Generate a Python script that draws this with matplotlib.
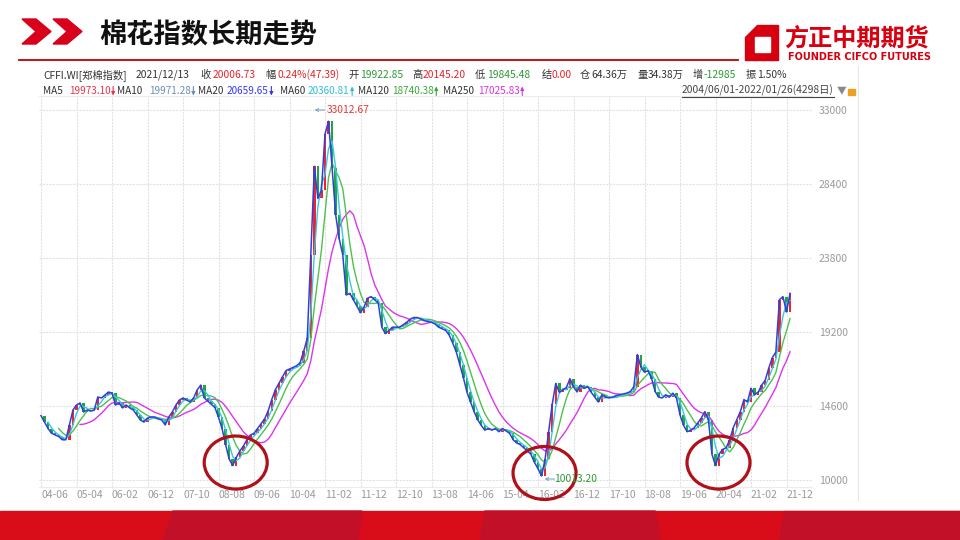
import matplotlib
matplotlib.use('Agg')
import matplotlib.pyplot as plt
import matplotlib.patches as mpatches
import numpy as np
import pandas as pd

# monthly closes of 郑棉指数 (2004-06 .. 2022-01)
close_2004 = [14000, 13600, 13200, 12900, 12800, 12700, 12500]
close_2005 = [12500, 13420, 14350, 14660, 14790, 14230, 14350, 14290, 14350, 15160, 15100, 15280]
close_2006 = [15470, 15400, 14660, 14790, 14480, 14660, 14480, 14350, 14040, 13730, 13600, 13850]
close_2007 = [13920, 13920, 13800, 13730, 13420, 13920, 14230, 14660, 14970, 15100, 14970, 14850]
close_2008 = [15100, 15600, 15900, 15100, 14900, 14700, 14500, 13900, 13200, 12200, 11300, 10900]
close_2009 = [11400, 11800, 12100, 12500, 12800, 12900, 13200, 13500, 13800, 14300, 15000, 15600]
close_2010 = [16000, 16400, 16800, 16900, 17000, 17100, 17300, 18000, 18800, 24000, 29500, 27500]
close_2011 = [28000, 31500, 32300, 29400, 26500, 25000, 24000, 21500, 21600, 21200, 20800, 20400]
close_2012 = [20750, 21300, 21400, 21200, 21000, 19500, 19100, 19300, 19500, 19500, 19500, 19650]
close_2013 = [19800, 20000, 20100, 20100, 20000, 19900, 19850, 19800, 19700, 19500, 19400, 19300]
close_2014 = [19000, 18500, 17950, 17150, 16350, 15450, 14850, 14250, 13750, 13400, 13100, 13200]
close_2015 = [13100, 13200, 13000, 13200, 13050, 12900, 12500, 12300, 12200, 12000, 11800, 11600]
close_2016 = [11100, 10700, 10250, 11300, 13000, 14700, 16000, 15450, 15600, 15750, 16300, 15800]
close_2017 = [15470, 15900, 15700, 15800, 15450, 15150, 14850, 15300, 15150, 15100, 15150, 15250]
close_2018 = [15300, 15350, 15400, 15500, 15800, 17800, 17000, 16700, 16800, 16300, 15500, 15150]
close_2019 = [15100, 15300, 15150, 15400, 15100, 14050, 13400, 13000, 13100, 13250, 13550, 13850]
close_2020 = [14250, 13750, 11600, 10900, 11600, 11900, 12000, 12500, 13250, 13750, 14250, 15000]
close_2021 = [14850, 15700, 15300, 15450, 15900, 16200, 16950, 17600, 17950, 21200, 21400, 20450]
close_2022 = [21600]

y_ticks = [10000, 14600, 19200, 23800, 28400, 33000]
peak_label = '33012.67'
low_label = '10013.20'
circled_lows = ['2008-12', '2016-03', '2020-04']

quote_items = [('', 'CFFI.WI[郑棉指数]'), ('', '2021/12/13'), ('收', '20006.73'),
               ('幅', '0.24%(47.39)'), ('开', '19922.85'), ('高', '20145.20'),
               ('低', '19845.48'), ('结', '0.00'), ('仓', '64.36万'),
               ('量', '34.38万'), ('增', '-12985'), ('振', '1.50%')]
ma_items = [('MA5', '19973.10', 'down'), ('MA10', '19971.28', 'down'),
            ('MA20', '20659.65', 'down'), ('MA60', '20360.81', 'up'),
            ('MA120', '18740.38', 'up'), ('MA250', '17025.83', 'up')]
range_text = '2004/06/01-2022/01/26(4298日)'

plt.rcParams['font.family'] = ['Noto Sans CJK SC', 'DejaVu Sans']

close = np.array(close_2004 + close_2005 + close_2006 + close_2007 + close_2008 +
                 close_2009 + close_2010 + close_2011 + close_2012 + close_2013 +
                 close_2014 + close_2015 + close_2016 + close_2017 + close_2018 +
                 close_2019 + close_2020 + close_2021 + close_2022, dtype=float)
months = pd.period_range('2004-06', '2022-01', freq='M')
x = np.arange(len(close))
opens = np.r_[close[0], close[:-1]]
s = pd.Series(close)

fig = plt.figure(figsize=(9.6, 5.4), dpi=100)
W, H = 960, 540

# chart panel, placed in pixels
L, R, T, B = 39, 812, 96, 487
ax = fig.add_axes([L / W, 1 - B / H, (R - L) / W, (B - T) / H])
ax.set_xlim((L - 41) / 3.55, (R - 41) / 3.55)
ax.set_ylim(10000 - (B - 480) * 62.16, 33000 + (110 - T) * 62.16)

up = close >= opens
ax.bar(x, close - opens, bottom=opens, width=0.7,
       color=np.where(up, '#f2232b', '#1fa83a'), zorder=2)
ax.plot(x, s.rolling(12).mean(), color='#dd33ee', lw=1.0, zorder=3)
ax.plot(x, s.rolling(6).mean(), color='#4cc24c', lw=1.0, zorder=3)
ax.plot(x, s.rolling(3).mean(), color='#35c8e0', lw=1.0, zorder=3)
ax.plot(x, close, color='#2f3fe0', lw=1.1, zorder=4)

ticks = x[::10]
ax.set_xticks(ticks)
ax.set_xticklabels([months[i].strftime('%y-%m') for i in ticks], ha='left')
ax.set_yticks(y_ticks)
ax.set_yticklabels([str(v) for v in y_ticks])
ax.yaxis.tick_right()
ax.tick_params(axis='x', length=0, pad=2, labelsize=7.5, labelcolor='#9a9a9a')
ax.tick_params(axis='y', length=0, pad=5, labelsize=7.5, labelcolor='#9a9a9a')
ax.grid(True, color='#e2e2e2', lw=0.8, ls=(0, (2, 1)))
ax.set_axisbelow(True)
for sp in ['left', 'right']:
    ax.spines[sp].set_visible(False)
for sp in ['top', 'bottom']:
    ax.spines[sp].set_color('#ececec')

# overlay in pixel coordinates for header, footer and highlights
ov = fig.add_axes([0, 0, 1, 1], zorder=5)
ov.set_xlim(0, W)
ov.set_ylim(H, 0)
ov.axis('off')
ov.patch.set_alpha(0)


def to_px(xd, yd):
    dx, dy = ax.transData.transform((xd, yd))
    return dx, H - dy


def small_arrow(x0, y0, direction, col):
    # narrow arrow glyph like the terminal's ↑ / ↓
    if direction == 'up':
        ov.annotate('', xy=(x0, y0 - 4.5), xytext=(x0, y0 + 4.5),
                    arrowprops=dict(arrowstyle='-|>', color=col, lw=0.8,
                                    mutation_scale=5, shrinkA=0, shrinkB=0))
    elif direction == 'down':
        ov.annotate('', xy=(x0, y0 + 4.5), xytext=(x0, y0 - 4.5),
                    arrowprops=dict(arrowstyle='-|>', color=col, lw=0.8,
                                    mutation_scale=5, shrinkA=0, shrinkB=0))
    else:
        ov.annotate('', xy=(x0, y0), xytext=(x0 + 10, y0),
                    arrowprops=dict(arrowstyle='->', color=col, lw=0.8,
                                    mutation_scale=5, shrinkA=0, shrinkB=0))


# header
red = '#d9001b'
for x0 in [22, 53]:
    ov.add_patch(mpatches.Polygon([(x0, 19), (x0 + 14, 19), (x0 + 29, 31.5), (x0 + 14, 44),
                                   (x0, 44), (x0 + 14, 31.5)], closed=True, color=red))
ov.text(99, 35, '棉花指数长期走势', fontsize=19.6, fontweight='bold', va='center', color='#111111')
ov.plot([19, 738], [60, 60], color='#c00000', lw=1.3)

# logo
ov.add_patch(mpatches.Polygon([(757, 25), (778, 25), (778, 60), (745, 60), (745, 37)],
                              closed=True, color='#d7000f'))
ov.add_patch(mpatches.Rectangle((755, 37), 15, 15, color='white'))
ov.text(784, 38, '方正中期期货', fontsize=17.4, fontweight='bold', color='#d7000f', va='center')
ov.text(788, 57.5, 'FOUNDER CIFCO FUTURES', fontsize=7.0, fontweight='bold',
        color='#d7000f', va='center', family=['DejaVu Sans'])

# quote lines
fs = 7.4
dark = '#333333'
q_red, q_green = '#e5232a', '#2e9a36'
label_x = [None, None, 200, 265, 348, 412, 475, 542, 580, 637, 693, 746]
value_x = [43, 136, 213, 277, 360, 423, 487, 552, 591, 648, 704, 757]
quote_colors = [dark, dark, q_red, q_red, q_green, q_red, q_green, q_red, dark, dark, q_green, dark]
for (lab, val), lx, vx, col in zip(quote_items, label_x, value_x, quote_colors):
    if lab:
        ov.text(lx, 75, lab, fontsize=fs, color=dark, va='center')
    ov.text(vx, 75, val, fontsize=fs, color=col, va='center')

fig.canvas.draw()
rend = fig.canvas.get_renderer()

ma_label_x = [43, 117, 198, 280, 358, 443]
ma_value_x = [69, 149, 227, 308, 392, 478]
ma_colors = ['#e8334a', '#6b8db8', '#3038f0', '#30bcd8', '#3aa83a', '#d633e0']
for (lab, val, d), lx, vx, col in zip(ma_items, ma_label_x, ma_value_x, ma_colors):
    ov.text(lx, 91, lab, fontsize=7.2, color=dark, va='center')
    t = ov.text(vx, 91, val, fontsize=7.2, color=col, va='center')
    w = t.get_window_extent(rend).width
    small_arrow(vx + w + 2.5, 91, d, col)

t = ov.text(682, 90.5, range_text, fontsize=fs, color='#444444', va='center')
bb = t.get_window_extent(rend)
ov.plot([682, 682 + bb.width], [97, 97], color='#444444', lw=0.8)
ov.text(685 + bb.width, 90, '▼', fontsize=7, color='#888888', va='center')
ov.add_patch(mpatches.Rectangle((848, 89), 7, 6, color='#f0a020'))
ov.plot([858, 858], [66, 500], color='#e6e6e6', lw=0.8)

# peak / low labels
pk = int(np.argmax(close))
px_, py_ = to_px(pk, close[pk])
small_arrow(px_ - 14, 110, 'left', '#7fa7c8')
ov.text(px_ - 2, 110, peak_label, fontsize=fs, color='#e03a3a', va='center')
lo = int(np.argmin(close))
lx_, ly_ = to_px(lo, close[lo])
small_arrow(lx_ + 3, 479, 'left', '#7fa7c8')
ov.text(lx_ + 13, 479, low_label, fontsize=fs, color='#2e9a36', va='center')

# circles around the lows
for m in circled_lows:
    i = months.get_loc(pd.Period(m, freq='M'))
    cx, cy = to_px(i, close[i])
    ov.add_patch(mpatches.Ellipse((cx + 3, cy - 3), 63, 53, fill=False,
                                  ec='#b0101a', lw=2.3))

# footer band
ov.add_patch(mpatches.Rectangle((0, 511), W, 29, color='#d90d1a'))
for poly in [[(173, 511), (362, 511), (358, 540), (163, 540)],
             [(485, 511), (655, 511), (660, 540), (480, 540)],
             [(784, 511), (960, 511), (960, 540), (779, 540)]]:
    ov.add_patch(mpatches.Polygon(poly, closed=True, color='#c21029'))

fig.savefig('out.png', dpi=100)
